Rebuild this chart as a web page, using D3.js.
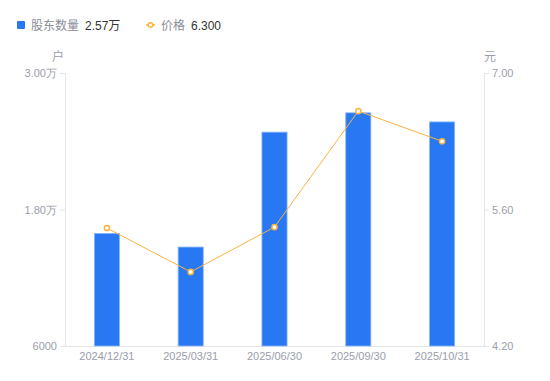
<!DOCTYPE html>
<html>
<head>
<meta charset="utf-8">
<script src="https://cdn.jsdelivr.net/npm/d3@7"></script>
<style>
  body { margin: 0; background: #fff; }
  svg { font-family: "Liberation Sans", Arial, "Noto Sans CJK SC", sans-serif; }
</style>
</head>
<body>
<svg id="chart" width="550" height="381"></svg>
<script>
// data
const dates = ["2024/12/31", "2025/03/31", "2025/06/30", "2025/09/30", "2025/10/31"];
const holders = [15900, 14700, 24800, 26500, 25700];
const prices = [5.41, 4.96, 5.42, 6.61, 6.30];
const leftTicks = [6000, 18000, 30000];
const rightTicks = [4.2, 5.6, 7.0];

const svg = d3.select("#chart");
const margin = {top: 73, right: 66, bottom: 35, left: 65};
const width = 550 - margin.left - margin.right;
const height = 381 - margin.top - margin.bottom;

const g = svg.append("g")
    .attr("transform", "translate(" + margin.left + "," + margin.top + ")");

const x = d3.scaleBand()
    .domain(dates)
    .range([0, width]);

const yL = d3.scaleLinear().domain([6000, 30000]).range([height, 0]);
const yR = d3.scaleLinear().domain([4.2, 7.0]).range([height, 0]);

const fmtL = d => d >= 10000 ? (d / 10000).toFixed(2) + "万" : d;
const axisColor = "#e3e5ea";
const labelColor = "#9a9eab";

// left axis
const la = g.append("g")
    .call(d3.axisLeft(yL).tickValues(leftTicks).tickFormat(fmtL).tickSize(5).tickPadding(3));
la.select(".domain").attr("stroke", axisColor);
la.selectAll(".tick line").attr("stroke", axisColor);
la.selectAll("text").attr("fill", labelColor).style("font-size", "11px");

// right axis
const ra = g.append("g")
    .attr("transform", "translate(" + width + ",0)")
    .call(d3.axisRight(yR).tickValues(rightTicks).tickFormat(d3.format(".2f")).tickSize(5).tickPadding(3));
ra.select(".domain").attr("stroke", axisColor);
ra.selectAll(".tick line").attr("stroke", axisColor);
ra.selectAll("text").attr("fill", labelColor).style("font-size", "11px");

// bottom axis
const ba = g.append("g")
    .attr("transform", "translate(0," + height + ")")
    .call(d3.axisBottom(x).tickSize(0).tickPadding(6));
ba.select(".domain").attr("stroke", axisColor);
ba.selectAll("text").attr("fill", labelColor).style("font-size", "11px");

// unit labels
g.append("text").attr("x", -7).attr("y", -12).attr("text-anchor", "middle")
    .attr("fill", labelColor).style("font-size", "12px").text("户");
g.append("text").attr("x", width + 6).attr("y", -12).attr("text-anchor", "middle")
    .attr("fill", labelColor).style("font-size", "12px").text("元");

// bars
const barW = x.bandwidth() * 0.3;
g.selectAll(".bar")
    .data(holders)
    .enter().append("rect")
    .attr("class", "bar")
    .attr("x", (d, i) => x(dates[i]) + x.bandwidth() / 2 - barW / 2)
    .attr("y", d => yL(d))
    .attr("width", barW)
    .attr("height", d => height - yL(d))
    .attr("fill", "#2878f4")
    .attr("stroke", "#8db8fa")
    .attr("stroke-width", 0.8);

// price line
const line = d3.line()
    .x((d, i) => x(dates[i]) + x.bandwidth() / 2)
    .y(d => yR(d));
g.append("path")
    .datum(prices)
    .attr("d", line)
    .attr("fill", "none")
    .attr("stroke", "#f9b43c")
    .attr("stroke-width", 1);

g.selectAll(".pt")
    .data(prices)
    .enter().append("circle")
    .attr("class", "pt")
    .attr("cx", (d, i) => x(dates[i]) + x.bandwidth() / 2)
    .attr("cy", d => yR(d))
    .attr("r", 2.6)
    .attr("fill", "#fff")
    .attr("stroke", "#f9b43c")
    .attr("stroke-width", 1.5);

// legend
const lg = svg.append("g");
lg.append("rect").attr("x", 17).attr("y", 21).attr("width", 8).attr("height", 8)
    .attr("rx", 1).attr("fill", "#2878f4");
lg.append("text").attr("x", 31).attr("y", 29.5).attr("fill", "#8a8d99")
    .style("font-size", "12px").text("股东数量");
lg.append("text").attr("x", 85).attr("y", 29.5).attr("fill", "#333")
    .style("font-size", "12px").text("2.57万");

lg.append("line").attr("x1", 146).attr("x2", 155).attr("y1", 25).attr("y2", 25)
    .attr("stroke", "#f9b43c").attr("stroke-width", 1.5);
lg.append("circle").attr("cx", 150.5).attr("cy", 25).attr("r", 2.3)
    .attr("fill", "#fff").attr("stroke", "#f9b43c").attr("stroke-width", 1.5);
lg.append("text").attr("x", 161).attr("y", 29.5).attr("fill", "#8a8d99")
    .style("font-size", "12px").text("价格");
lg.append("text").attr("x", 191).attr("y", 29.5).attr("fill", "#333")
    .style("font-size", "12px").text("6.300");
</script>
</body>
</html>
